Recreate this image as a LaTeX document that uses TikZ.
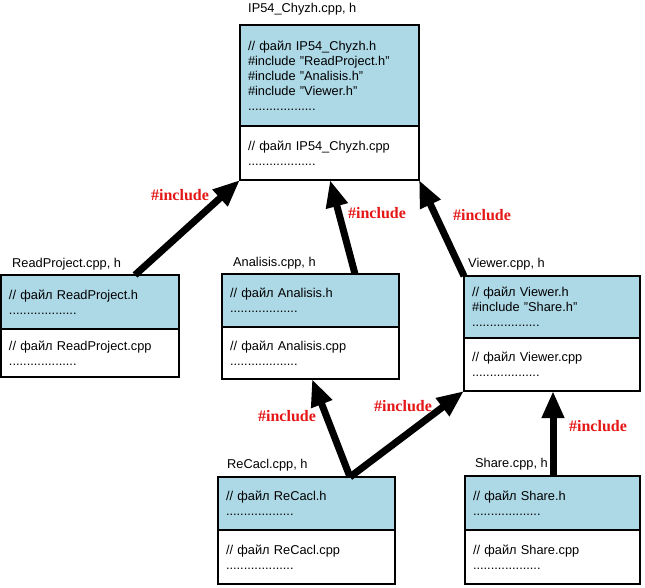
\documentclass[tikz,border=0pt]{standalone}
\usepackage{fontspec}
\setmainfont{Liberation Sans}
\newfontfamily\incfont{Liberation Serif}
\usetikzlibrary{arrows.meta,calc}
\definecolor{hdrblue}{RGB}{173,216,230}
\definecolor{incred}{RGB}{228,22,22}
\newcommand\dotsline{...................}
\begin{document}
\begin{tikzpicture}[x=1pt,y=-1pt,
  part/.style={draw=black, line width=2pt, anchor=north west, inner xsep=8pt, inner ysep=0pt, outer sep=0pt, align=left, font=\fontsize{12.8}{15}\selectfont},
  hpart/.style={part, fill=hdrblue},
  cpart/.style={part, fill=white},
  title/.style={anchor=west, inner sep=0pt, font=\fontsize{12.8}{15}\selectfont},
  inc/.style={font=\incfont\bfseries\fontsize{16}{18}\selectfont, text=incred, inner sep=0pt},
  arr/.style={line width=7pt, -{Triangle[length=27pt,width=21pt]}}]
\useasboundingbox (0,0) rectangle (645,588);

% IP54
\node[title] (ipT) at (248,9) {IP54\_Chyzh.cpp, h};
\node[hpart, text width=163pt, minimum height=101pt] (ipH) at (240,25)
  {// файл IP54\_Chyzh.h\\\#include "ReadProject.h"\\\#include "Analisis.h"\\\#include "Viewer.h"\\\dotsline};
\node[cpart, text width=163pt, minimum height=54pt] (ipC) at (240,126)
  {// файл IP54\_Chyzh.cpp\\\dotsline};

% ReadProject
\node[title] (rpT) at (12,264) {ReadProject.cpp, h};
\node[hpart, text width=162pt, minimum height=54pt] (rpH) at (1,275)
  {// файл ReadProject.h\\\dotsline};
\node[cpart, text width=162pt, minimum height=48pt] (rpC) at (1,329)
  {// файл ReadProject.cpp\\\dotsline};

% Analisis
\node[title] (anT) at (233,263) {Analisis.cpp, h};
\node[hpart, text width=161pt, minimum height=53pt] (anH) at (222,274)
  {// файл Analisis.h\\\dotsline};
\node[cpart, text width=161pt, minimum height=52pt] (anC) at (222,327)
  {// файл Analisis.cpp\\\dotsline};

% Viewer
\node[title] (vwT) at (468,264) {Viewer.cpp, h};
\node[hpart, text width=160pt, minimum height=62pt] (vwH) at (464,276)
  {// файл Viewer.h\\\#include "Share.h"\\\dotsline};
\node[cpart, text width=160pt, minimum height=53pt] (vwC) at (464,338)
  {// файл Viewer.cpp\\\dotsline};

% ReCacl
\node[title] (rcT) at (227,465) {ReCacl.cpp, h};
\node[hpart, text width=161pt, minimum height=53pt] (rcH) at (218,477)
  {// файл ReCacl.h\\\dotsline};
\node[cpart, text width=161pt, minimum height=54pt] (rcC) at (218,530)
  {// файл ReCacl.cpp\\\dotsline};

% Share
\node[title] (shT) at (475,464) {Share.cpp, h};
\node[hpart, text width=159pt, minimum height=54pt] (shH) at (465,476)
  {// файл Share.h\\\dotsline};
\node[cpart, text width=159pt, minimum height=54pt] (shC) at (465,530)
  {// файл Share.cpp\\\dotsline};

% arrows
\draw[arr] ($(rpH.north west)+(134,0)$) -- (ipC.south west);
\draw[arr] ($(anH.north west)+(133,0)$) -- ($(ipC.south west)+(90,0)$);
\draw[arr] (vwH.north west) -- (ipC.south east);
\draw[arr] ($(rcH.north west)+(132,0)$) -- ($(anC.south west)+(90,0)$);
\draw[arr] ($(rcH.north west)+(132,0)$) -- (vwC.south west);
\draw[arr] ($(shH.north west)+(88,0)$) -- ($(vwC.south west)+(89,0)$);

% labels
\node[inc] (i1) at (180,195) {\#include};
\node[inc] (i2) at (377,213) {\#include};
\node[inc] (i3) at (482,215) {\#include};
\node[inc] (i4) at (287,416) {\#include};
\node[inc] (i5) at (403,406) {\#include};
\node[inc] (i6) at (598,426) {\#include};
\end{tikzpicture}
\end{document}
